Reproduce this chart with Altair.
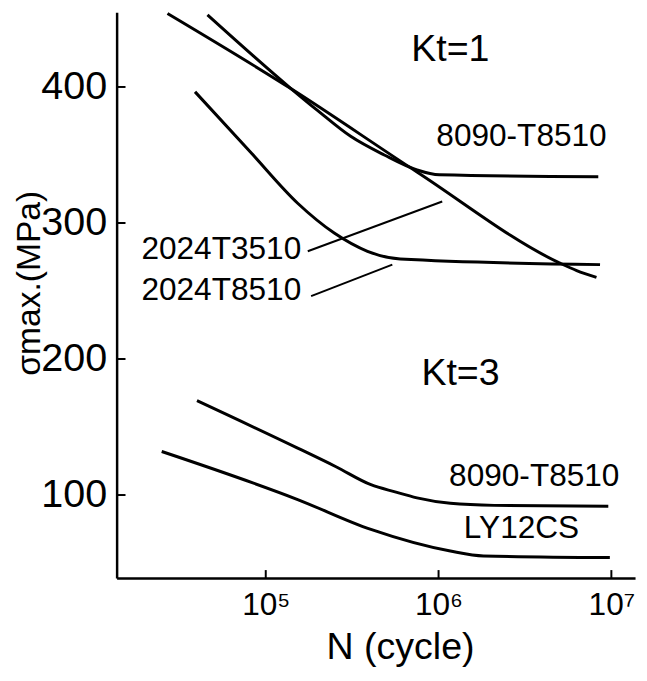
import altair as alt
import pandas as pd

# ---- data (N in cycles, S = sigma_max in MPa) ----
# Kt = 1
n_2024t3510 = [2.7e4, 1.41e5, 7.5e5, 5.0e6, 6.3e6, 8.2e6]
s_2024t3510 = [454, 398.5, 337.5, 270.7, 265, 260]
n_8090_kt1 = [4.6e4, 1.41e5, 2.0e5, 3.1e5, 4.85e5, 7.5e5, 1.01e6, 8.4e6]
s_8090_kt1 = [453, 398.5, 382.6, 363.7, 350, 339, 335.4, 334]
n_2024t8510 = [3.9e4, 8.3e4, 1.53e5, 2.49e5, 3.88e5, 6.0e5, 8.6e6]
s_2024t8510 = [396.4, 351, 314.5, 292.6, 279.2, 273.5, 269.4]
# Kt = 3
n_8090_kt3 = [4.0e4, 1.53e5, 2.55e5, 4.06e5, 5.6e5, 7.5e5, 1.17e6, 2.1e6, 9.6e6]
s_8090_kt3 = [169.4, 134.5, 120.8, 107.6, 102.3, 97.9, 93.9, 92.4, 91.8]
n_ly12cs = [2.5e4, 1.53e5, 4.06e5, 1.17e6, 1.82e6, 9.8e6]
s_ly12cs = [132, 96.7, 74.7, 58.8, 55.2, 54]

# leader lines for the 2024 labels
leader_ids = ["2024T3510", "2024T8510"]
leader_n = [[1.75e5, 1.05e6], [1.83e5, 5.4e5]]
leader_s = [[279.2, 315.8], [246.2, 269.4]]

# annotations
kt_text = ["Kt=1", "Kt=3"]
kt_n = [1.17e6, 1.34e6]
kt_s = [426.9, 188.7]
mat_text = ["8090-T8510", "2024T3510", "2024T8510", "8090-T8510", "LY12CS"]
mat_n = [3.02e6, 5.53e4, 5.53e4, 3.58e6, 3.02e6]
mat_s = [364, 280.5, 250.4, 113.9, 75.4]

x_ticks = [1e5, 1e6, 1e7]
y_ticks = [100, 200, 300, 400]

# ---- tables ----
series = [
    ("2024-T3510 Kt1", n_2024t3510, s_2024t3510),
    ("8090-T8510 Kt1", n_8090_kt1, s_8090_kt1),
    ("2024-T8510 Kt1", n_2024t8510, s_2024t8510),
    ("8090-T8510 Kt3", n_8090_kt3, s_8090_kt3),
    ("LY12CS Kt3", n_ly12cs, s_ly12cs),
]
rows = []
for name, ns, ss in series:
    for i, (n, s) in enumerate(zip(ns, ss)):
        rows.append({"series": name, "N": n, "S": s, "o": i})
curves_df = pd.DataFrame(rows)

lrows = []
for lid, ns, ss in zip(leader_ids, leader_n, leader_s):
    for i, (n, s) in enumerate(zip(ns, ss)):
        lrows.append({"series": lid, "N": n, "S": s, "o": i})
leader_df = pd.DataFrame(lrows)

kt_df = pd.DataFrame({"t": kt_text, "N": kt_n, "S": kt_s})
mat_df = pd.DataFrame({"t": mat_text, "N": mat_n, "S": mat_s})
xt_df = pd.DataFrame({"N": x_ticks})
yt_df = pd.DataFrame({"S": y_ticks})

FONT = "Liberation Sans"
W, H = 525, 573

x_scale = alt.Scale(type="log", domain=[13710, 13710000], nice=False)
y_scale = alt.Scale(domain=[39, 455], nice=False, zero=False)

x_axis = alt.Axis(
    values=x_ticks,
    labelExpr="datum.value == 100000 ? '10⁵' : (datum.value == 1000000 ? '10⁶' : '10⁷')",
    tickSize=0, labelPadding=12, labelFont=FONT, labelFontSize=32, labelColor="black",
    labelBaseline="top", domainColor="black", domainWidth=2.5, grid=False,
    labelFlush=False, labelOverlap=False,
    title="N (cycle)", titleFont=FONT, titleFontSize=38, titleFontWeight="normal",
    titleColor="black", titleX=287, titleY=82, titleBaseline="alphabetic", titleAlign="center",
)
y_axis = alt.Axis(
    values=y_ticks, tickSize=0, labelPadding=10, labelFont=FONT, labelFontSize=40,
    labelColor="black", domainColor="black", domainWidth=2.5, grid=False, labelFlush=False,
    title="σmax.(MPa)", titleFont=FONT, titleFontSize=34, titleFontWeight="normal",
    titleColor="black", titleAngle=270, titleX=-88, titleY=274, titleBaseline="middle",
    titleAlign="center",
)

X = alt.X("N:Q", scale=x_scale, axis=x_axis)
Y = alt.Y("S:Q", scale=y_scale, axis=y_axis)

curves = alt.Chart(curves_df).mark_line(
    color="black", strokeWidth=3, interpolate="monotone"
).encode(x=X, y=Y, detail="series:N", order="o:Q")

leaders = alt.Chart(leader_df).mark_line(color="black", strokeWidth=2).encode(
    x=X, y=Y, detail="series:N", order="o:Q"
)

kt_labels = alt.Chart(kt_df).mark_text(
    font=FONT, fontSize=38, color="black", align="center", baseline="middle"
).encode(x=X, y=Y, text="t:N")

mat_labels = alt.Chart(mat_df).mark_text(
    font=FONT, fontSize=32, color="black", align="center", baseline="middle"
).encode(x=X, y=Y, text="t:N")

xticks = alt.Chart(xt_df).mark_rule(color="black", strokeWidth=2).encode(
    x=X, y=alt.value(H), y2=alt.value(H - 8)
)
yticks = alt.Chart(yt_df).mark_rule(color="black", strokeWidth=2).encode(
    y=Y, x=alt.value(0), x2=alt.value(9)
)

chart = alt.layer(curves, leaders, kt_labels, mat_labels, xticks, yticks).properties(
    width=W, height=H,
    padding={"left": 110, "top": 0, "right": 4, "bottom": 92},
    autosize=alt.AutoSizeParams(type="none"),
    background="white",
).configure_view(stroke=None)

chart.save("out.html", embed_options={"renderer": "svg", "actions": False})
